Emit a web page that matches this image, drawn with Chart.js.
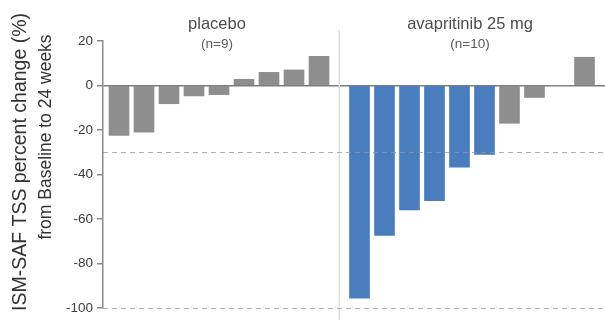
<!DOCTYPE html>
<html>
<head>
<meta charset="utf-8">
<script src="https://cdn.jsdelivr.net/npm/chart.js@4/dist/chart.umd.min.js"></script>
<style>
  html, body { margin: 0; padding: 0; background: #ffffff; }
  #c { display: block; }
</style>
</head>
<body>
<canvas id="c" width="605" height="320"></canvas>
<script>
// Percent change in ISM-SAF TSS from baseline to week 24, per patient, sorted within each arm
const groupNames = ['placebo', 'avapritinib 25 mg'];
const groupCounts = ['(n=9)', '(n=10)'];
const placeboChange = [-22.5, -21.0, -8.2, -4.7, -4.1, 2.8, 5.9, 7.0, 13.1];
const avapritinibChange = [-95.6, -67.4, -55.9, -51.8, -36.7, -31.0, -17.0, -5.4, 0, 12.7];
const yTicks = [20, 0, -20, -40, -60, -80, -100];
const referenceLines = [-30, -100];
const responderCutoff = -30;
const yTitle = ['ISM-SAF TSS percent change (%)', 'from Baseline to 24 weeks'];

const FONT = "'Liberation Sans', Arial, Helvetica, sans-serif";
const GRAY = '#8e8e8e';
const BLUE = '#4a7dbd';
const GROUP_GAP = 1.62;   // extra slot width between the two arms

// slot positions on the linear x scale
const placeboX = placeboChange.map((_, i) => i + 1);
const avapStart = placeboChange.length + GROUP_GAP;
const avapX = avapritinibChange.map((_, i) => avapStart + i);

const placeboData = placeboChange.map((v, i) => ({ x: placeboX[i], y: v }));
const avapData = avapritinibChange.map((v, i) => ({ x: avapX[i], y: v }));
const avapColors = avapritinibChange.map(v => (v <= responderCutoff ? BLUE : GRAY));

// vertical separator, group headers, dashed reference lines and y title
const decorations = {
  id: 'decorations',
  beforeDatasetsDraw(chart) {
    const { ctx } = chart;
    const xs = chart.scales.x;
    const sepX = (xs.getPixelForValue(placeboX[placeboX.length - 1]) + xs.getPixelForValue(avapX[0])) / 2;
    ctx.save();
    ctx.strokeStyle = '#dedede';
    ctx.lineWidth = 1.5;
    ctx.beginPath();
    ctx.moveTo(sepX, 30);
    ctx.lineTo(sepX, chart.height);
    ctx.stroke();
    ctx.restore();
  },
  afterDatasetsDraw(chart) {
    const { ctx, chartArea } = chart;
    const ys = chart.scales.y;
    ctx.save();
    ctx.strokeStyle = 'rgba(140,150,180,0.75)';
    ctx.lineWidth = 1.2;
    ctx.setLineDash([5, 4]);
    referenceLines.forEach(v => {
      const y = Math.round(ys.getPixelForValue(v)) + 0.5;
      ctx.beginPath();
      ctx.moveTo(chartArea.left, y);
      ctx.lineTo(chart.width, y);
      ctx.stroke();
    });
    ctx.restore();
  },
  afterDraw(chart) {
    const { ctx } = chart;
    const xs = chart.scales.x;
    const groups = [placeboX, avapX];
    ctx.save();
    ctx.textAlign = 'center';
    ctx.textBaseline = 'middle';
    groups.forEach((pos, g) => {
      const cx = (xs.getPixelForValue(pos[0]) + xs.getPixelForValue(pos[pos.length - 1])) / 2 - 2;
      ctx.fillStyle = '#4d4d4d';
      ctx.font = `16.5px ${FONT}`;
      ctx.fillText(groupNames[g], cx, 24);
      ctx.fillStyle = '#5a5a5a';
      ctx.font = `13.5px ${FONT}`;
      ctx.fillText(groupCounts[g], cx, 44);
    });
    // two-line y-axis title, rotated
    ctx.fillStyle = '#333333';
    ctx.save();
    ctx.translate(21, 162);
    ctx.rotate(-Math.PI / 2);
    ctx.font = `19.5px ${FONT}`;
    ctx.fillText(yTitle[0], 0, 0);
    ctx.restore();
    ctx.save();
    ctx.translate(46, 137);
    ctx.rotate(-Math.PI / 2);
    ctx.font = `17.5px ${FONT}`;
    ctx.fillText(yTitle[1], 0, 0);
    ctx.restore();
    ctx.restore();
  }
};

new Chart(document.getElementById('c'), {
  type: 'bar',
  data: {
    datasets: [
      { label: groupNames[0], data: placeboData, backgroundColor: GRAY, grouped: false, barThickness: 20 },
      { label: groupNames[1], data: avapData, backgroundColor: avapColors, grouped: false, barThickness: 20 }
    ]
  },
  options: {
    responsive: false,
    animation: false,
    devicePixelRatio: 1,
    layout: { padding: { top: 41, right: 0, bottom: 7, left: 0 } },
    plugins: { legend: { display: false }, tooltip: { enabled: false } },
    scales: {
      x: {
        type: 'linear',
        display: false,
        offset: false,
        min: 0.36,
        max: 20.44
      },
      y: {
        min: -100,
        max: 20,
        afterFit(scale) { scale.width = 103; },
        afterBuildTicks(scale) { scale.ticks = yTicks.map(v => ({ value: v })); },
        ticks: {
          color: '#3a3a3a',
          font: { family: FONT, size: 13.5 },
          padding: 4
        },
        grid: {
          color: ctx => (ctx.tick && ctx.tick.value === 0 ? '#7c7c7c' : 'rgba(0,0,0,0)'),
          lineWidth: 1.5,
          tickColor: '#8a8a8a',
          tickLength: 6,
          drawTicks: true
        },
        border: { color: '#8a8a8a', width: 1.5 }
      }
    }
  },
  plugins: [decorations]
});
</script>
</body>
</html>
